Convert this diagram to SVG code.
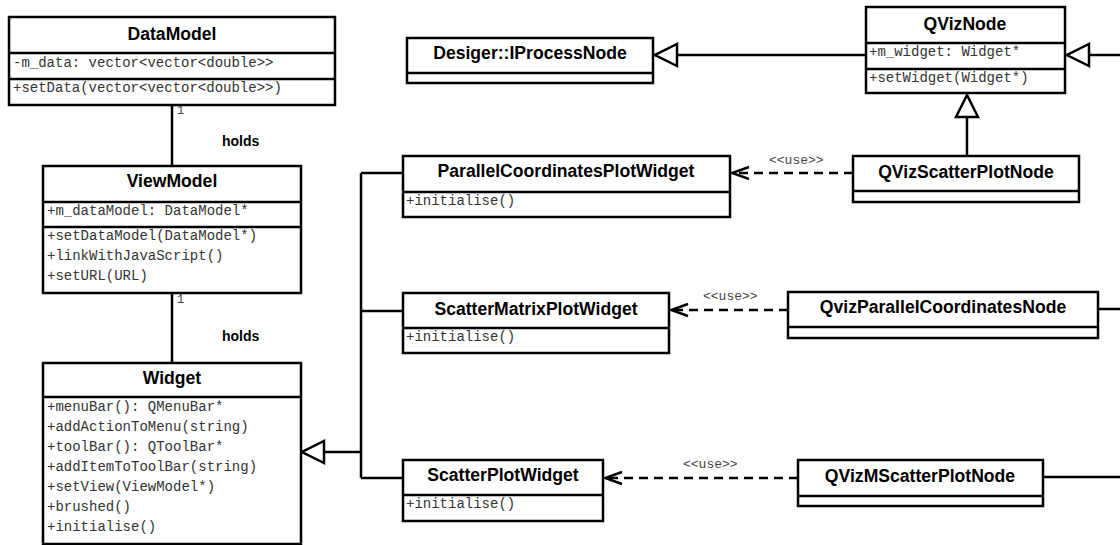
<svg xmlns="http://www.w3.org/2000/svg" width="1120" height="545" viewBox="0 0 1120 545">
<style>
.box{fill:#fff;stroke:#000;stroke-width:2.5}
.div{stroke:#000;stroke-width:2.5}
.t{font-family:"Liberation Sans",Arial,sans-serif;font-weight:bold;font-size:17.6px;fill:#000;text-anchor:middle}
.m{font-family:"Liberation Mono","Courier New",monospace;font-size:14px;fill:#333}
.lbl{font-family:"Liberation Sans",Arial,sans-serif;font-weight:bold;font-size:14px;fill:#000}
.mult{font-family:"Liberation Mono","Courier New",monospace;font-size:12px;fill:#444}
.use{font-family:"Liberation Mono","Courier New",monospace;font-size:13px;fill:#444}
.ln{fill:none;stroke:#000;stroke-width:2.5}
.dash{fill:none;stroke:#000;stroke-width:2.5;stroke-dasharray:9,6}
</style>
<defs>
<marker id="open" viewBox="-19 -8 21 16" refX="0" refY="0" markerWidth="21" markerHeight="16" markerUnits="userSpaceOnUse" orient="auto">
<path d="M-17,-6 L0,0 L-17,6" fill="none" stroke="#000" stroke-width="2.5"/>
</marker>
<marker id="tri" viewBox="-24 -13 26 26" refX="0" refY="0" markerWidth="26" markerHeight="26" markerUnits="userSpaceOnUse" orient="auto">
<path d="M-22,-11 L0,0 L-22,11 Z" fill="#fff" stroke="#000" stroke-width="2.5"/>
</marker>
</defs>

<g id="connectors">
<line class="ln" x1="172" y1="105" x2="172" y2="166"/>
<line class="ln" x1="172" y1="293" x2="172" y2="363"/>
<path class="ln" d="M361,173 V478 M361,173 H403 M361,311 H403 M361,478 H403"/>
<line class="ln" x1="361" y1="452" x2="302" y2="452" stroke-width="3" marker-end="url(#tri)"/>
<line class="ln" x1="866" y1="55" x2="655" y2="55" marker-end="url(#tri)"/>
<line class="ln" x1="1120" y1="55" x2="1067" y2="55" marker-end="url(#tri)"/>
<line class="ln" x1="967" y1="156" x2="967" y2="95" marker-end="url(#tri)"/>
<line class="ln" x1="1098" y1="309" x2="1120" y2="309"/>
<line class="ln" x1="1043" y1="477" x2="1120" y2="477"/>
<line class="dash" x1="853" y1="173" x2="732" y2="173" marker-end="url(#open)"/>
<line class="dash" x1="788" y1="310" x2="671" y2="310" marker-end="url(#open)"/>
<line class="dash" x1="798" y1="478" x2="605" y2="478" marker-end="url(#open)"/>
<text class="mult" x="177" y="114">1</text>
<text class="lbl" x="222" y="146">holds</text>
<text class="mult" x="177" y="303">1</text>
<text class="lbl" x="222" y="341">holds</text>
<text class="use" x="769" y="164">&lt;&lt;use&gt;&gt;</text>
<text class="use" x="703" y="300">&lt;&lt;use&gt;&gt;</text>
<text class="use" x="683" y="468">&lt;&lt;use&gt;&gt;</text>
</g>

<g id="DataModel">
<rect class="box" x="9" y="17" width="326" height="88"/>
<line class="div" x1="9" y1="53" x2="335" y2="53"/>
<line class="div" x1="9" y1="79" x2="335" y2="79"/>
<text class="t" x="172" y="40">DataModel</text>
<text class="m" x="13" y="67">-m_data: vector&lt;vector&lt;double&gt;&gt;</text>
<text class="m" x="13" y="92">+setData(vector&lt;vector&lt;double&gt;&gt;)</text>
</g>

<g id="ViewModel">
<rect class="box" x="43" y="166" width="258" height="127"/>
<line class="div" x1="43" y1="202" x2="301" y2="202"/>
<line class="div" x1="43" y1="227" x2="301" y2="227"/>
<text class="t" x="172" y="187">ViewModel</text>
<text class="m" x="47" y="215">+m_dataModel: DataModel*</text>
<text class="m" x="47" y="240">+setDataModel(DataModel*)</text>
<text class="m" x="47" y="260">+linkWithJavaScript()</text>
<text class="m" x="47" y="280">+setURL(URL)</text>
</g>

<g id="Widget">
<rect class="box" x="43" y="363" width="258" height="181"/>
<line class="div" x1="43" y1="397" x2="301" y2="397"/>
<text class="t" x="172" y="384">Widget</text>
<text class="m" x="47" y="411">+menuBar(): QMenuBar*</text>
<text class="m" x="47" y="431">+addActionToMenu(string)</text>
<text class="m" x="47" y="451">+toolBar(): QToolBar*</text>
<text class="m" x="47" y="471">+addItemToToolBar(string)</text>
<text class="m" x="47" y="491">+setView(ViewModel*)</text>
<text class="m" x="47" y="511">+brushed()</text>
<text class="m" x="47" y="531">+initialise()</text>
</g>

<g id="IProcessNode">
<rect class="box" x="407" y="38" width="246" height="45"/>
<line class="div" x1="407" y1="73" x2="653" y2="73"/>
<text class="t" x="530" y="59">Desiger::IProcessNode</text>
</g>

<g id="QVizNode">
<rect class="box" x="866" y="7" width="199" height="86"/>
<line class="div" x1="866" y1="43" x2="1065" y2="43"/>
<line class="div" x1="866" y1="69" x2="1065" y2="69"/>
<text class="t" x="965" y="30">QVizNode</text>
<text class="m" x="869" y="56">+m_widget: Widget*</text>
<text class="m" x="869" y="82">+setWidget(Widget*)</text>
</g>

<g id="QVizScatterPlotNode">
<rect class="box" x="853" y="156" width="226" height="46"/>
<line class="div" x1="853" y1="191" x2="1079" y2="191"/>
<text class="t" x="966" y="178">QVizScatterPlotNode</text>
</g>

<g id="ParallelCoordinatesPlotWidget">
<rect class="box" x="403" y="156" width="327" height="61"/>
<line class="div" x1="403" y1="192" x2="730" y2="192"/>
<text class="t" x="566" y="177">ParallelCoordinatesPlotWidget</text>
<text class="m" x="406" y="205">+initialise()</text>
</g>

<g id="ScatterMatrixPlotWidget">
<rect class="box" x="403" y="293" width="266" height="60"/>
<line class="div" x1="403" y1="328" x2="669" y2="328"/>
<text class="t" x="536" y="315">ScatterMatrixPlotWidget</text>
<text class="m" x="406" y="341">+initialise()</text>
</g>

<g id="ScatterPlotWidget">
<rect class="box" x="403" y="460" width="200" height="61"/>
<line class="div" x1="403" y1="495" x2="603" y2="495"/>
<text class="t" x="503" y="481">ScatterPlotWidget</text>
<text class="m" x="406" y="508">+initialise()</text>
</g>

<g id="QvizParallelCoordinatesNode">
<rect class="box" x="788" y="292" width="310" height="46"/>
<line class="div" x1="788" y1="327" x2="1098" y2="327"/>
<text class="t" x="943" y="313">QvizParallelCoordinatesNode</text>
</g>

<g id="QVizMScatterPlotNode">
<rect class="box" x="798" y="460" width="245" height="46"/>
<line class="div" x1="798" y1="496" x2="1043" y2="496"/>
<text class="t" x="920" y="482">QVizMScatterPlotNode</text>
</g>
</svg>
